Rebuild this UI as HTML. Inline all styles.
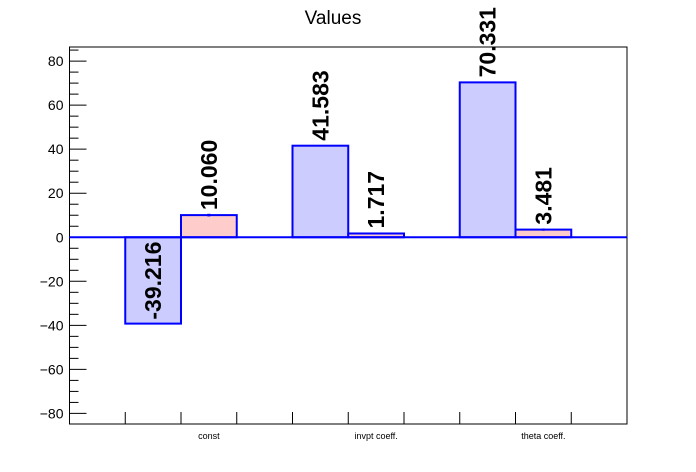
<!DOCTYPE html>
<html><head><meta charset="utf-8"><style>
body{margin:0;background:#fff;}
svg{display:block;font-family:"Liberation Sans",sans-serif;}
</style></head><body>
<svg id="chart" width="696" height="472" viewBox="0 0 696 472">
<rect width="696" height="472" fill="#fff"/>
<text x="333" y="24" font-size="19" text-anchor="middle">Values</text>
<g id="plot"></g>
</svg>
<script>
const categories = ["const", "invpt coeff.", "theta coeff."];
const seriesA = [-39.216, 41.583, 70.331];
const seriesB = [10.060, 1.717, 3.481];
const errorsB = [0.6, 0.4, 0.5];
const yTicks = [-80, -60, -40, -20, 0, 20, 40, 60, 80];

const X0 = 69.5, X1 = 627, Y0 = 47, Y1 = 424;
const YMIN = -84.8, YMAX = 86.4;
const DIV = (X1 - X0) / 10;
function y(v){ return Y1 - (v - YMIN) / (YMAX - YMIN) * (Y1 - Y0); }
function barX(i, s){ return X0 + DIV * (1 + 3 * i + s); }

const NS = "http://www.w3.org/2000/svg";
const g = document.getElementById('plot');
function mk(tag, attrs, parent){
  const e = document.createElementNS(NS, tag);
  for (const k in attrs) e.setAttribute(k, attrs[k]);
  (parent || g).appendChild(e);
  return e;
}

// frame
const fr = mk('rect', {x:X0, y:Y0, width:X1-X0, height:Y1-Y0, fill:'none', stroke:'#000', 'stroke-width':1});



// y ticks
for (let v = -80; v <= 85; v += 5) {
  const major = v % 20 === 0;
  const t = mk('line', {x1:X0, x2:X0 + (major ? 17 : 9), y1:y(v), y2:y(v), stroke:'#000', 'stroke-width':1});
  
  
}
yTicks.forEach(v => {
  const t = mk('text', {x:X0 - 6, y:y(v) + 5, 'font-size':14, 'text-anchor':'end'});
  t.textContent = v < 0 ? '\u2212' + Math.abs(v) : String(v);
  
  
});

// x ticks
for (let k = 1; k < 10; k++) {
  const xx = X0 + DIV * k;
  const t = mk('line', {x1:xx, x2:xx, y1:Y1, y2:Y1 - 12, stroke:'#000', 'stroke-width':1});
  
  
}

function bar(i, s, v, fill, name){
  const xa = barX(i, s), ya = y(Math.max(v, 0)), yb = y(Math.min(v, 0));
  const r = mk('rect', {x:xa, y:ya, width:DIV, height:Math.max(yb - ya, 1), fill:fill, stroke:'#00f', 'stroke-width':2});
  
  
  const cx = xa + DIV / 2;
  const endY = v >= 0 ? y(v) - 5 : y(v) - 4;
  const t = mk('text', {x:0, y:0, 'font-size':23, 'font-weight':'bold', transform:'translate(' + (cx + 8) + ',' + endY + ') rotate(-90)'});
  t.textContent = v.toFixed(3);
  
  
  return cx;
}

categories.forEach((c, i) => {
  bar(i, 0, seriesA[i], '#ccccff', 'bar-a-' + i);
  const cx = bar(i, 1, seriesB[i], '#ffcccc', 'bar-b-' + i);
  const e = mk('line', {x1:cx, x2:cx, y1:y(seriesB[i] + errorsB[i]), y2:y(seriesB[i] - errorsB[i]), stroke:'#00f', 'stroke-width':3});
  
  
  const lb = mk('text', {x:cx, y:Y1 + 15, 'font-size':9, 'text-anchor':'middle'});
  lb.textContent = c;
  
  
});

// zero line
const z = mk('line', {x1:X0, x2:X1, y1:y(0), y2:y(0), stroke:'#00f', 'stroke-width':2});


</script>
</body></html>
